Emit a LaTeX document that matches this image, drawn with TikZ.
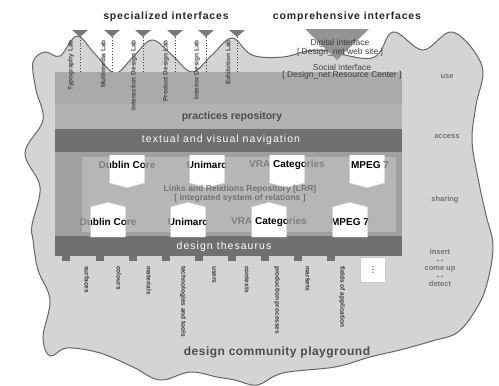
\documentclass[tikz,border=0pt]{standalone}
\usepackage{fontspec}
\setmainfont{Liberation Sans}
\newfontfamily\symfont{DejaVu Sans}
\usetikzlibrary{positioning,shapes.symbols}
\usepackage{xcolor}
\definecolor{blobgray}{RGB}{212,212,212}
\definecolor{usegray}{RGB}{170,170,170}
\definecolor{pracgray}{RGB}{178,178,178}
\definecolor{navgray}{RGB}{112,112,112}
\definecolor{sharegray}{RGB}{160,160,160}
\definecolor{sharelight}{RGB}{182,182,182}
\definecolor{trigray}{RGB}{120,120,120}

\begin{document}
\begin{tikzpicture}[x=1pt, y=-1pt,
        blob/.style={fill=blobgray, draw=black!60, line width=1pt},
        head/.style={font=\bfseries\fontsize{10.5}{12}\selectfont\addfontfeature{LetterSpace=8}, text=black!85},
        lab/.style={rotate=90, anchor=east, inner sep=0pt, font=\bfseries\fontsize{6.5}{7}\selectfont, text=black!72},
        term/.style={rotate=-90, anchor=west, inner sep=0pt, font=\bfseries\fontsize{6.5}{7}\selectfont, text=black!78},
        dotline/.style={dotted, line width=0.8pt, draw=black!75},
        bandtext/.style={text=white, font=\fontsize{10.5}{12}\selectfont\addfontfeature{LetterSpace=10}},
        iface/.style={font=\fontsize{8.5}{10}\selectfont, text=black!75, inner sep=0pt},
        side/.style={font=\bfseries\fontsize{7.5}{9}\selectfont, text=black!55, inner sep=0.5pt},
        meta/.style={font=\bfseries\fontsize{10}{12}\selectfont, text=black!50},
        tagdown/.style={signal, signal to=south, signal pointer angle=150, fill=white, draw=white!85!black, minimum width=35pt, minimum height=28pt, inner sep=0pt},
        tagup/.style={signal, signal to=north, signal pointer angle=150, fill=white, draw=white!85!black, minimum width=35pt, minimum height=30pt, inner sep=0pt},
        tagfont/.style={font=\bfseries\fontsize{10}{12}\selectfont, text=black}
      ]
    \useasboundingbox (0,0) rectangle (499,386);

      % Playground (background blob)
      \draw[blob] plot[smooth cycle, tension=0.6] coordinates {
        (33,62) (45,52) (60,56) (77,36) (95,54) (115,73) (133,57) (152,40)
        (172,55) (192,72) (212,55) (232,38) (252,55) (283,57) (318,50)
        (372,58) (393,32) (423,50) (453,32) (482,66) (476,105) (472,140)
        (478,178) (486,215) (493,245) (488,280) (478,306) (458,332)
        (432,341) (400,350) (370,357) (335,367) (283,373) (257,385)
        (235,380) (217,377) (190,372) (160,380) (133,367) (100,353)
        (67,348) (50,356) (43,337) (50,300) (38,270) (33,240) (32,225)
        (40,187) (25,153) (43,120) (36,90)};

      % Layers
      \fill[usegray]    (55,72) rectangle (402,104);
      \fill[pracgray]   (55,104) rectangle (402,129);
      \fill[navgray]    (55,129) rectangle (402,152);
      \fill[sharegray]  (55,152) rectangle (402,236);
      \fill[sharelight] (82,157) rectangle (396,232);
      \fill[navgray]    (55,236) rectangle (402,256);
      \foreach \x in {66,100,133,166,199,232,265,298,331}
        \fill[navgray] (\x-4,255) rectangle (\x+4,261);
      \coordinate (rtop) at (55,72);

      % Interface headings
      \node[head] (spec) at (166,17) {specialized interfaces};
      \node[head] (comp) at (347,17) {comprehensive interfaces};

      % Specialized interfaces (labs)
      \foreach \i/\x/\t in {1/80/Typography Lab, 2/112/Multimedia Lab,
          3/143/Interaction Design Lab, 4/175/Product Design Lab,
          5/206/Interior Design Lab, 6/237/Exhibition Lab} {
        \coordinate (tri\i) at (\x,37);
        \fill[trigray] (tri\i) -- ++(-8,-7) -- ++(16,0) -- cycle;
        \draw[dotline] (tri\i) -- (tri\i |- rtop);
        \node[lab] (lab\i) at (\x-9,40) {\t};
      }

      % Comprehensive interfaces
      \coordinate (bigtri) at (337,60);
      \fill[trigray!80] (bigtri) -- (305,29) -- (369,29) -- cycle;
      \node[iface] (dig) at (340,43) {Digital interface};
      \node[iface, below=1pt of dig] (digsite) {[ Design\_net web site ]};
      \node[iface] (soc) at (342,67) {Social interface};
      \node[iface, below=1pt of soc] (socsite) {[ Design\_net Resource Center ]};

      % Repository and navigation
      \node[font=\bfseries\fontsize{10.5}{12}\selectfont, text=black!70] (prac) at (232,117) {practices repository};
      \node[bandtext] (nav) at (221,140) {textual and visual navigation};

      % Metadata rows
      \node[meta] (dcA) at (127,165) {Dublin Core};
      \node[meta] (unA) at (207,165) {Unimarc};
      \node[meta] (vrA) at (287,165) {VRA Categories};
      \node[meta] (mpA) at (370,165) {MPEG 7};
      \node[tagdown, path picture={\node[tagfont] at (dcA) {Dublin Core};}] (tdcA) at (127,169) {};
      \node[tagdown, path picture={\node[tagfont] at (unA) {Unimarc};}] (tunA) at (207,169) {};
      \node[tagdown, path picture={\node[tagfont] at (vrA) {VRA Categories};}] (tvrA) at (287,169) {};
      \node[tagdown, path picture={\node[tagfont] at (mpA) {MPEG 7};}] (tmpA) at (367,169) {};

      \node[font=\bfseries\fontsize{8.5}{10}\selectfont, text=black!55, align=center] (lrr) at (240,194)
        {Links and Relations Repository [LRR]\\[-1pt] [ integrated system of relations ]};

      \node[meta] (dcB) at (108,222) {Dublin Core};
      \node[meta] (unB) at (188,222) {Unimarc};
      \node[meta] (vrB) at (269,222) {VRA Categories};
      \node[meta] (mpB) at (350,222) {MPEG 7};
      \node[tagup, path picture={\node[tagfont] at (dcB) {Dublin Core};}] (tdcB) at (108,222) {};
      \node[tagup, path picture={\node[tagfont] at (unB) {Unimarc};}] (tunB) at (188,222) {};
      \node[tagup, path picture={\node[tagfont] at (vrB) {VRA Categories};}] (tvrB) at (269,222) {};
      \node[tagup, path picture={\node[tagfont] at (mpB) {MPEG 7};}] (tmpB) at (350,222) {};

      % Design thesaurus
      \node[bandtext] (thes) at (224,247) {design thesaurus};
      \node[fill=white, draw=white!80!black, minimum size=25pt, inner sep=0pt, font=\symfont\fontsize{8}{9}\selectfont] (more) at (373,270) {⋮};
      \foreach \i/\x/\t in {1/87/surfaces, 2/119/colours, 3/149/materials,
          4/183/technologies and tools, 5/214/users, 6/247/contexts,
          7/277/production processes, 8/308/markets, 9/342/fields of application}
        \node[term] (term\i) at (\x,266) {\t};

      \node[font=\bfseries\fontsize{12}{14}\selectfont\addfontfeature{LetterSpace=4}, text=black!70] (play) at (277,352) {design community playground};

      % Levels
      \node[side] (use) at (447,77) {use};
      \node[side] (acc) at (447,137) {access};
      \node[side] (shr) at (445,200) {sharing};
      \node[side, align=center] (ins) at (440,268)
        {insert\\[-1pt] $\leftrightarrow$\\[-1pt] come up\\[-1pt] $\leftrightarrow$\\[-1pt] detect};
\end{tikzpicture}
\end{document}
